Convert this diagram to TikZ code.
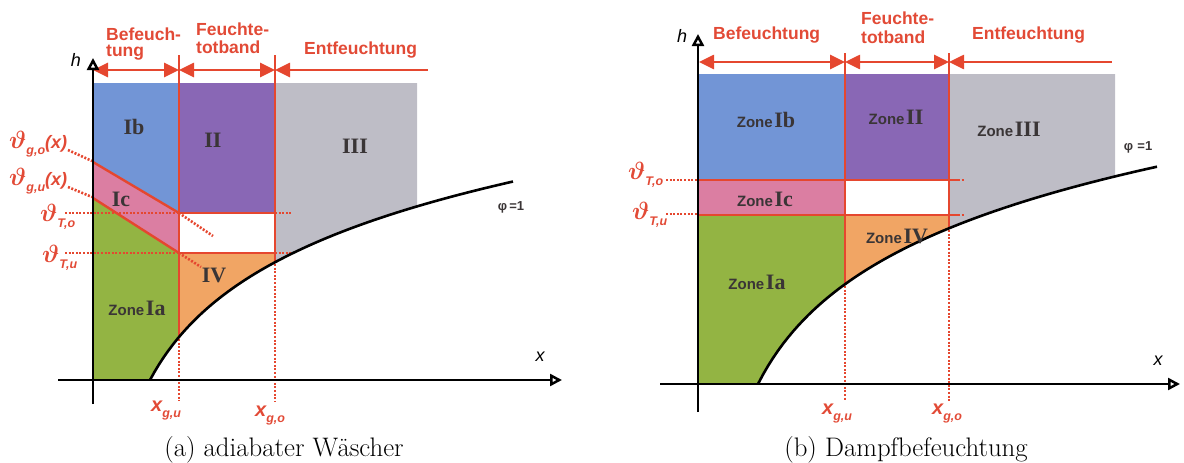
\documentclass[tikz,border=0pt]{standalone}
\usepackage{fontspec}
\newfontfamily\labfont{Liberation Sans}
\newfontfamily\serfont{Liberation Serif}
\usetikzlibrary{arrows.meta}
\definecolor{rd}{HTML}{E5472F}
\definecolor{rdt}{HTML}{E24A36}
\definecolor{cblue}{HTML}{7295D6}
\definecolor{cpurple}{HTML}{8967B5}
\definecolor{cgrey}{HTML}{BEBDC6}
\definecolor{cpink}{HTML}{DB7EA2}
\definecolor{cgreen}{HTML}{93B443}
\definecolor{corange}{HTML}{F1A564}
\definecolor{ztext}{HTML}{3A3536}
\newcommand\thv{{\fontsize{24.88}{25}\selectfont\boldmath$\vartheta$}}
\newcommand\subl[1]{\raisebox{-6pt}{\fontsize{12.5}{12}\selectfont\labfont\bfseries\itshape #1}}
\newcommand\xg[1]{{\fontsize{20}{20}\selectfont\labfont\bfseries\itshape x}\subl{#1}}
\newcommand\zonelbl[1]{{\labfont\bfseries\fontsize{15}{16}\selectfont Zone}\,{\serfont\bfseries\fontsize{22}{22}\selectfont #1}}
\newcommand\numlbl[1]{{\serfont\bfseries\fontsize{22}{22}\selectfont #1}}
\begin{document}
\begin{tikzpicture}[x=1pt,y=-1pt,
  redline/.style={draw=rd,line width=2.4pt},
  reddot/.style={draw=rd,line width=2.6pt,dash pattern=on 2pt off 1.6pt},
  axisline/.style={line width=2.5pt,-{Triangle[open,length=12pt,width=12pt]}},
  rarrow/.style={draw=rd,line width=2.6pt,{Triangle[length=15pt,width=14pt]}-{Triangle[length=15pt,width=14pt]}},
  larrow/.style={draw=rd,line width=2.6pt,{Triangle[length=15pt,width=14pt]}-},
  curveline/.style={line width=2.6pt,black},
  lbl/.style={text=rdt,font=\labfont\bfseries\fontsize{17.5}{19}\selectfont,inner sep=0pt},
  zone/.style={text=ztext,inner sep=0pt},
  axlbl/.style={font=\labfont\itshape\fontsize{18}{18}\selectfont,inner sep=0pt},
  redlbl/.style={text=rdt,inner sep=0pt},
  phil/.style={font=\labfont\bfseries\fontsize{13}{14}\selectfont,text=ztext,inner sep=0pt},
  captext/.style={font=\fontsize{26.8}{28}\selectfont,inner sep=0pt}]
\useasboundingbox (0,0) rectangle (1184,463);

% ================= LEFT PANEL =================
\fill[cblue] (93,83) -- (179,83) -- (179,213) -- (93,162) -- cycle;
\fill[cpink] (93,162) -- (179,213) -- (179,253) -- (93,198) -- cycle;
\fill[cgreen] (93,198) -- (179,253) -- (179,337) -- plot[domain=179:150,samples=30] (\x,{380-94*ln(1+(\x-150)/50)}) -- (93,380) -- cycle;
\fill[cpurple] (179,83) rectangle (275,213);
\fill[corange] (179,253) -- (275,253) -- plot[domain=275:179,samples=30] (\x,{380-94*ln(1+(\x-150)/50)}) -- cycle;
\fill[cgrey] (275,83) -- (417,83) -- plot[domain=417:275,samples=40] (\x,{380-94*ln(1+(\x-150)/50)}) -- cycle;

% red boundaries
\draw[redline] (93,162) -- (179,213);
\draw[redline] (93,198) -- (179,253);
\draw[redline] (179,213) -- (275,213);
\draw[redline] (179,253) -- (275,253);
\draw[redline] (179,55) -- (179,337);
\draw[redline] (275,55) -- (275,262);
% dotted
\draw[reddot] (65,213) -- (179,213);
\draw[reddot] (65,253) -- (179,253);
\draw[reddot] (275,213) -- (291,213);
\draw[reddot] (275,253) -- (291,253);
\draw[reddot] (179,213) -- (213,236);
\draw[reddot] (179,253) -- (201,267);
\draw[reddot] (68,150) -- (92,161);
\draw[reddot] (68,187) -- (92,197);
\draw[reddot] (179,339) -- (179,401);
\draw[reddot] (275,264) -- (275,401);

% arrows
\draw[rarrow] (93,70) -- (179,70);
\draw[rarrow] (179,70) -- (275,70);
\draw[larrow] (275,70) -- (428,70);

% axes and curve
\draw[axisline] (93,404) -- (93,58);
\draw[axisline] (58,380) -- (562,380);
\draw[curveline] plot[domain=150:513,samples=80] (\x,{380-94*ln(1+(\x-150)/50)});

% labels
\node[lbl,anchor=west] (lbefa) at (106,34) {Befeuch-};
\node[lbl,anchor=west] (lbefb) at (106,53) {tung};
\node[lbl,anchor=west] (lfeua) at (196,29) {Feuchte-};
\node[lbl,anchor=west] (lfeub) at (196,47) {totband};
\node[lbl,anchor=west] (lent) at (304,50) {Entfeuchtung};
\node[zone] (zIb) at (134,127) {\numlbl{Ib}};
\node[zone] (zII) at (213,140) {\numlbl{II}};
\node[zone] (zIII) at (355,146) {\numlbl{III}};
\node[zone] (zIc) at (121,199) {\numlbl{Ic}};
\node[zone] (zIV) at (214,275) {\numlbl{IV}};
\node[zone] (zIa) at (137,308) {\zonelbl{Ia}};
\node[phil] (phia) at (511,207) {φ\,=1};
\node[axlbl] (ha) at (76,60) {h};
\node[axlbl] (xa) at (540,357) {x};
\node[redlbl,anchor=west] (xgua) at (151,411) {\xg{g,u}};
\node[redlbl,anchor=west] (xgoa) at (255,416) {\xg{g,o}};
\node[redlbl,anchor=west] (tgoa) at (9,144) {\thv\subl{g,o}{\fontsize{18}{18}\selectfont\labfont\bfseries\itshape(x)}};
\node[redlbl,anchor=west] (tgua) at (9,181) {\thv\subl{g,u}{\fontsize{18}{18}\selectfont\labfont\bfseries\itshape(x)}};
\node[redlbl,anchor=west] (ttoa) at (40,217) {\thv\subl{T,o}};
\node[redlbl,anchor=west] (ttua) at (42,258) {\thv\subl{T,u}};

% ================= RIGHT PANEL =================
\fill[cblue] (698,74) rectangle (845,180);
\fill[cpink] (698,180) rectangle (845,215);
\fill[cgreen] (698,215) -- (845,215) -- (845,284) -- plot[domain=845:758,samples=30] (\x,{384-99*ln(1+(\x-758)/50)}) -- (698,384) -- cycle;
\fill[cpurple] (845,74) rectangle (949,180);
\fill[corange] (845,215) -- (949,215) -- plot[domain=949:845,samples=30] (\x,{384-99*ln(1+(\x-758)/50)}) -- cycle;
\fill[cgrey] (949,74) -- (1115,74) -- plot[domain=1115:949,samples=40] (\x,{384-99*ln(1+(\x-758)/50)}) -- cycle;

\draw[redline] (698,180) -- (958,180);
\draw[redline] (698,215) -- (958,215);
\draw[reddot] (958,180) -- (964,180);
\draw[reddot] (958,215) -- (964,215);
\draw[redline] (845,53) -- (845,284);
\draw[redline] (949,53) -- (949,228);
\draw[reddot] (666,180) -- (697,180);
\draw[reddot] (666,214) -- (697,214);
\draw[reddot] (845,286) -- (845,401);
\draw[reddot] (949,230) -- (949,401);

\draw[rarrow] (699,62) -- (845,62);
\draw[rarrow] (845,62) -- (949,62);
\draw[larrow] (949,62) -- (1112,62);

\draw[axisline] (698,412) -- (698,34);
\draw[axisline] (660,384) -- (1180,384);
\draw[curveline] plot[domain=758:1157,samples=80] (\x,{384-99*ln(1+(\x-758)/50)});

\node[lbl,anchor=west] (lbef) at (713,35) {Befeuchtung};
\node[lbl,anchor=west] (lfeuc) at (861,18) {Feuchte-};
\node[lbl,anchor=west] (lfeud) at (861,37) {totband};
\node[lbl,anchor=west] (lentb) at (972,35) {Entfeuchtung};
\node[zone] (zbIb) at (766,120) {\zonelbl{Ib}};
\node[zone] (zbII) at (896,117) {\zonelbl{II}};
\node[zone] (zbIII) at (1009,129) {\zonelbl{III}};
\node[zone] (zbIc) at (765,199) {\zonelbl{Ic}};
\node[zone] (zbIV) at (897,236) {\zonelbl{IV}};
\node[zone] (zbIa) at (757,282) {\zonelbl{Ia}};
\node[phil] (phib) at (1138,147) {φ\,\,=1};
\node[axlbl] (hb) at (682,36) {h};
\node[axlbl] (xb) at (1158,361) {x};
\node[redlbl,anchor=west] (xgub) at (822,414) {\xg{g,u}};
\node[redlbl,anchor=west] (xgob) at (932,414) {\xg{g,o}};
\node[redlbl,anchor=west] (ttob) at (628,175) {\thv\subl{T,o}};
\node[redlbl,anchor=west] (ttub) at (632,215) {\thv\subl{T,u}};

% captions
\node[captext] (capa) at (284,450) {(a) adiabater Wäscher};
\node[captext] (capb) at (906,450) {(b) Dampfbefeuchtung};
\end{tikzpicture}
\end{document}
